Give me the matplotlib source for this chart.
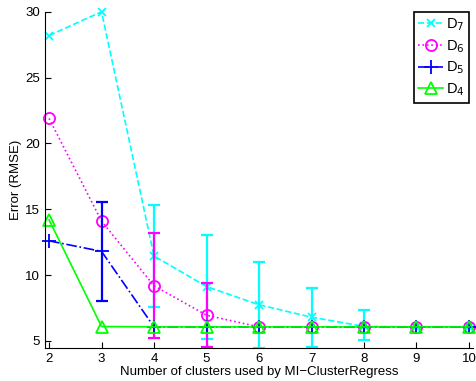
import numpy as np
import matplotlib
matplotlib.use('Agg')
from matplotlib import pyplot as plt

plt.rcParams['font.family'] = ['Liberation Sans', 'DejaVu Sans']

clusters = [2, 3, 4, 5, 6, 7, 8, 9, 10]

d7 = [28.2, 30.0, 11.45, 9.13, 7.74, 6.8, 6.1, 6.06, 6.06]
d6 = [21.9, 14.1, 9.18, 6.95, 6.06, 6.06, 6.06, 6.06, 6.06]
d5 = [12.6, 11.8, 6.06, 6.06, 6.06, 6.06, 6.06, 6.06, 6.06]
d4 = [14.2, 6.09, 6.06, 6.06, 6.06, 6.06, 6.06, 6.06, 6.06]

# error bars only on some points: (x, mean, half-width)
d7_err = [(4, 11.45, 3.85), (5, 9.13, 3.95), (6, 7.74, 3.26), (7, 6.8, 2.25), (8, 6.2, 1.13)]
d6_err = [(4, 9.18, 3.98), (5, 6.95, 2.44)]
d5_err = [(3, 11.8, 3.77)]

series = [
	('D$_7$', d7, d7_err, 'cyan', '--', 'x', 6),
	('D$_6$', d6, d6_err, 'magenta', ':', 'o', 8),
	('D$_5$', d5, d5_err, 'blue', '-.', '+', 10),
	('D$_4$', d4, [], 'lime', '-', '^', 8),
]

fig = plt.figure(figsize=(4.77, 3.81), dpi=100)
ax = fig.add_axes([0.094, 0.087, 0.898, 0.882])

for label, vals, errs, col, ls, mk, ms in series:
	ax.plot(clusters, vals, color=col, linestyle=ls, marker=mk, markersize=ms,
		markerfacecolor='none', markeredgewidth=1.3, linewidth=1.2, label=label, clip_on=False)
	if errs:
		ex = [e[0] for e in errs]
		ey = [e[1] for e in errs]
		ee = [e[2] for e in errs]
		ax.errorbar(ex, ey, yerr=ee, fmt='none', ecolor=col, elinewidth=1.6, capsize=4, capthick=1.6)

ax.set_xlim(1.92, 10.08)
ax.set_ylim(4.47, 30)
ax.set_xticks(clusters)
ax.set_yticks([5, 10, 15, 20, 25, 30])
ax.spines['top'].set_visible(False)
ax.spines['right'].set_visible(False)
ax.tick_params(direction='in', length=4, labelsize=9.5)
ax.set_xlabel('Number of clusters used by MI\u2212ClusterRegress', fontsize=9.5, labelpad=1)
ax.set_ylabel('Error (RMSE)', fontsize=9.5, labelpad=2)

leg = ax.legend(loc='upper right', bbox_to_anchor=(0.99, 1.0), fontsize=10.5, handlelength=1.7,
	handletextpad=0.2, labelspacing=0.35, borderpad=0.3, borderaxespad=0.0, fancybox=False, framealpha=1)
leg.get_frame().set_edgecolor('black')
leg.get_frame().set_linewidth(1.2)

plt.savefig('out.png', dpi=100)
